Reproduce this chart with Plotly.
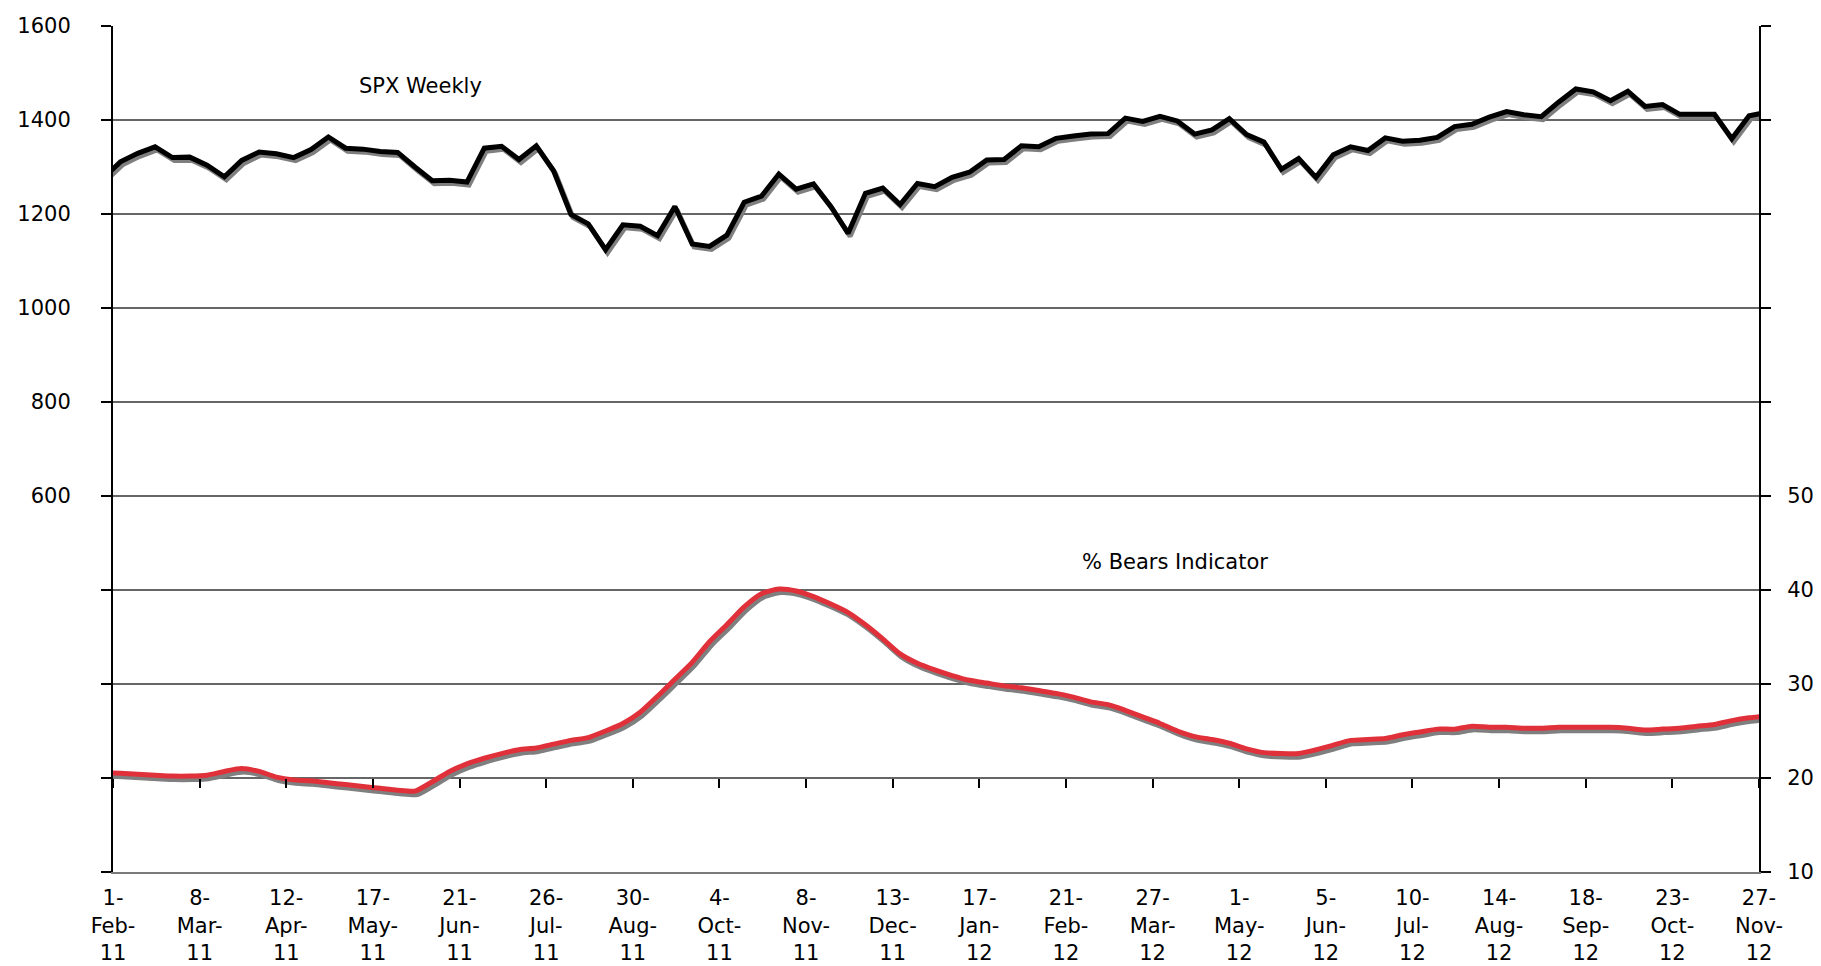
import pandas as pd
import plotly.graph_objects as go

# ---- data (weekly, Friday closes) ----
week_dates = pd.date_range("2011-01-28", periods=97, freq="7D")

spx_weekly = [
    1276, 1311, 1329, 1343, 1320, 1321, 1304, 1279, 1314, 1332,
    1328, 1320, 1337, 1364, 1340, 1338, 1333, 1331, 1300, 1271,
    1272, 1268, 1340, 1344, 1316, 1345, 1292, 1199, 1179, 1124,
    1177, 1174, 1154, 1216, 1136, 1131, 1155, 1225, 1238, 1285,
    1253, 1264, 1216, 1159, 1244, 1255, 1220, 1265, 1258, 1278,
    1289, 1315, 1316, 1345, 1343, 1361, 1366, 1370, 1371, 1404,
    1397, 1408, 1398, 1370, 1379, 1403, 1369, 1353, 1295, 1318,
    1278, 1326, 1343, 1335, 1362, 1355, 1357, 1363, 1386, 1391,
    1406, 1418, 1411, 1407, 1438, 1466, 1460, 1441, 1461, 1429,
    1433, 1412, 1412, 1412, 1360, 1409, 1416,
]

bears_pct = [
    20.6, 20.5, 20.4, 20.3, 20.2, 20.2, 20.3, 20.7, 21.0, 20.7,
    20.1, 19.8, 19.7, 19.5, 19.3, 19.1, 18.9, 18.7, 18.6, 19.6,
    20.7, 21.5, 22.1, 22.6, 23.0, 23.2, 23.6, 24.0, 24.3, 25.0,
    25.8, 27.0, 28.7, 30.5, 32.3, 34.5, 36.3, 38.2, 39.6, 40.1,
    39.9, 39.3, 38.5, 37.6, 36.3, 34.8, 33.2, 32.2, 31.5, 30.9,
    30.4, 30.1, 29.8, 29.6, 29.3, 29.0, 28.6, 28.1, 27.8, 27.2,
    26.5, 25.8, 25.0, 24.4, 24.1, 23.7, 23.1, 22.7, 22.6, 22.6,
    23.0, 23.5, 24.0, 24.1, 24.2, 24.6, 24.9, 25.2, 25.2, 25.5,
    25.4, 25.4, 25.3, 25.3, 25.4, 25.4, 25.4, 25.4, 25.3, 25.1,
    25.2, 25.3, 25.5, 25.7, 26.1, 26.4, 26.6,
]

tick_dates = pd.date_range("2011-02-01", periods=20, freq="35D")
tick_labels = [
    "1-<br>Feb-<br>11", "8-<br>Mar-<br>11", "12-<br>Apr-<br>11", "17-<br>May-<br>11",
    "21-<br>Jun-<br>11", "26-<br>Jul-<br>11", "30-<br>Aug-<br>11", "4-<br>Oct-<br>11",
    "8-<br>Nov-<br>11", "13-<br>Dec-<br>11", "17-<br>Jan-<br>12", "21-<br>Feb-<br>12",
    "27-<br>Mar-<br>12", "1-<br>May-<br>12", "5-<br>Jun-<br>12", "10-<br>Jul-<br>12",
    "14-<br>Aug-<br>12", "18-<br>Sep-<br>12", "23-<br>Oct-<br>12", "27-<br>Nov-<br>12",
]

left_tickvals = [-200, 0, 200, 400, 600, 800, 1000, 1200, 1400, 1600]
left_ticktext = ["", "", "", "", "600", "800", "1000", "1200", "1400", "1600"]
right_tickvals = [10, 20, 30, 40, 50, 60, 70, 80, 90, 100]
right_ticktext = ["10", "20", "30", "40", "50", "", "", "", "", ""]

# ---- styling ----
W, H = 1821, 966
ML, MR, MT, MB = 105, 70, 18, 102
plot_w = W - ML - MR
plot_h = H - MT - MB
FONT = "DejaVu Sans"
FS = 21
RED = "#E0313B"
SHADOW = "#7F7F7F"

x_start, x_end = pd.Timestamp("2011-02-01"), pd.Timestamp("2012-11-27")
px_per_day = plot_w / (x_end - x_start).days
shadow_dx = pd.Timedelta(hours=24 * 2.0 / px_per_day)          # 2 px right
spx_dy = 3.0 * 1800 / plot_h                                     # 3 px down
bears_dy = 3.5 * 90 / plot_h                                     # 3.5 px down

shadow_x = week_dates + shadow_dx

fig = go.Figure()
fig.add_trace(go.Scatter(x=shadow_x, y=[v - spx_dy for v in spx_weekly], mode="lines",
                         line=dict(color=SHADOW, width=5), xaxis="x", yaxis="y",
                         hoverinfo="skip"))
fig.add_trace(go.Scatter(x=week_dates, y=spx_weekly, mode="lines", name="SPX Weekly",
                         line=dict(color="black", width=5), xaxis="x", yaxis="y"))
fig.add_trace(go.Scatter(x=shadow_x, y=[v - bears_dy for v in bears_pct], mode="lines",
                         line=dict(color=SHADOW, width=5, shape="spline", smoothing=0.6),
                         xaxis="x2", yaxis="y2", hoverinfo="skip"))
fig.add_trace(go.Scatter(x=week_dates, y=bears_pct, mode="lines", name="% Bears Indicator",
                         line=dict(color=RED, width=5, shape="spline", smoothing=0.6),
                         xaxis="x2", yaxis="y2"))

fig.update_layout(
    width=W, height=H,
    margin=dict(l=ML, r=MR, t=MT, b=MB, autoexpand=False),
    paper_bgcolor="white", plot_bgcolor="white",
    showlegend=False,
    font=dict(family=FONT, size=FS, color="black"),
    xaxis=dict(
        type="date", range=[x_start, x_end], automargin=False,
        tickvals=list(tick_dates), ticktext=tick_labels,
        ticks="", showgrid=False, zeroline=False,
        showline=True, linecolor="#7a7a7a", linewidth=2,
        ticklabelstandoff=6, tickangle=0,
        tickfont=dict(family=FONT, size=FS, color="black"),
    ),
    xaxis2=dict(
        type="date", matches="x", overlaying="x", anchor="free", position=1 / 9,
        automargin=False,
        tickvals=list(tick_dates), ticks="outside", ticklen=9, tickwidth=1.5,
        tickcolor="black", showticklabels=False, showgrid=False, showline=False,
        zeroline=False,
    ),
    yaxis=dict(
        range=[-200, 1600], tickvals=left_tickvals, ticktext=left_ticktext,
        automargin=False,
        showgrid=True, gridcolor="#666666", gridwidth=1.5,
        ticks="outside", ticklen=10, tickwidth=1.5, tickcolor="black",
        showline=True, linecolor="black", linewidth=2, zeroline=False,
        ticklabelstandoff=26,
        tickfont=dict(family=FONT, size=FS, color="black"),
    ),
    yaxis2=dict(
        range=[10, 100], tickvals=right_tickvals, ticktext=right_ticktext,
        overlaying="y", side="right", anchor="x", automargin=False,
        showgrid=False, zeroline=False,
        ticks="outside", ticklen=10, tickwidth=1.5, tickcolor="black",
        showline=True, linecolor="black", linewidth=2,
        ticklabelstandoff=12,
        tickfont=dict(family=FONT, size=FS, color="black"),
    ),
    annotations=[
        dict(text="SPX Weekly", xref="paper", yref="paper",
             x=(412 - ML) / plot_w, y=(H - MB - 78) / plot_h,
             xanchor="center", yanchor="middle",
             showarrow=False, font=dict(family=FONT, size=FS, color="black")),
        dict(text="% Bears Indicator", xref="paper", yref="paper",
             x=(1167 - ML) / plot_w, y=(H - MB - 554) / plot_h,
             xanchor="center", yanchor="middle",
             showarrow=False, font=dict(family=FONT, size=FS, color="black")),
    ],
)

fig.write_html("out.html")
